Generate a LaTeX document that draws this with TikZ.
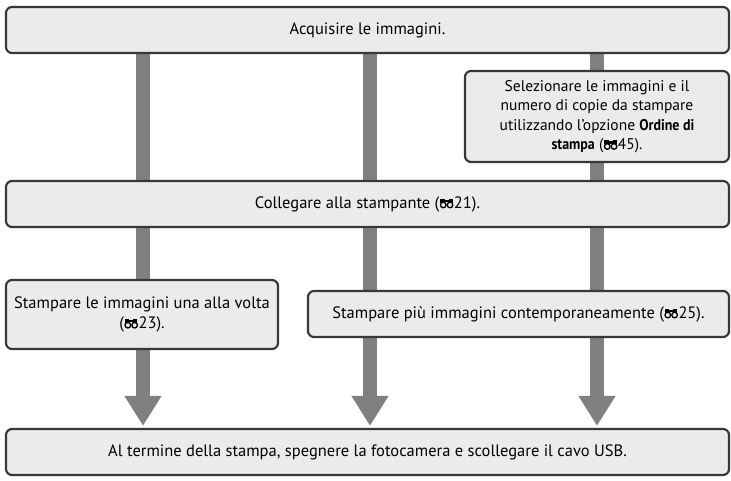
\documentclass[tikz,border=0pt]{standalone}
\usepackage{fontspec}
\setmainfont{PT Sans}[BoldFeatures={FakeStretch=0.9}]
\usetikzlibrary{arrows.meta}
\definecolor{boxfill}{HTML}{EBEBEB}
\definecolor{boxline}{HTML}{383838}
\definecolor{barc}{HTML}{808080}
\newcommand{\binoicon}{\tikz[baseline=0pt,x=1pt,y=1pt,line width=1.3pt,sharp corners]{%
  \path[use as bounding box] (-0.3,0) rectangle (14.3,9.5);
  \draw[black] (3.6,3.1) circle (2.8);
  \draw[black] (10.4,3.1) circle (2.8);
  \fill[black] (0.75,5.2) rectangle (5.0,9.2);
  \fill[black] (9.0,5.2) rectangle (13.25,9.2);
  \fill[black] (4.5,6.0) rectangle (9.5,8.4);
}}
\tikzset{
  flowbox/.style={draw=boxline, fill=boxfill, line width=2.2pt, rounded corners=6pt,
    inner sep=0pt, align=center, font=\fontsize{16.5}{19.5}\selectfont},
  selfont/.style={font=\fontsize{15.5}{19.5}\selectfont},
  flowbar/.style={draw=barc, line width=14pt, -{Triangle[width=35pt,length=30pt]}}
}
\begin{document}
\begin{tikzpicture}[x=1pt,y=-1pt]
\useasboundingbox (0,0) rectangle (731,480);
\coordinate (c1) at (143,0);
\coordinate (c2) at (370,0);
\coordinate (c3) at (597,0);
\path (367.5,30) coordinate (ptop);
\path (367.5,452) coordinate (pbot);
% invisible frames for the bar ends
\node[flowbox, minimum width=723pt, minimum height=46pt, draw=none, fill=none] (top0) at (ptop) {};
\node[flowbox, minimum width=723pt, minimum height=46pt, draw=none, fill=none] (bot0) at (pbot) {};
% bars with arrowheads
\draw[flowbar] (top0.south -| c1) -- ([yshift=2pt]bot0.north -| c1);
\draw[flowbar] (top0.south -| c2) -- ([yshift=2pt]bot0.north -| c2);
\draw[flowbar] (top0.south -| c3) -- ([yshift=2pt]bot0.north -| c3);
% boxes
\node[flowbox, minimum width=723pt, minimum height=46pt] (top) at (ptop) {Acquisire le immagini.};
\node[flowbox, selfont, minimum width=264pt, minimum height=91pt] (sel) at (597,116.5)
  {Selezionare le immagini e il\\numero di copie da stampare\\utilizzando l'opzione \textbf{Ordine di}\\\textbf{stampa} (\binoicon45).};
\node[flowbox, minimum width=723pt, minimum height=46pt] (coll) at (367.5,204)
  {Collegare alla stampante (\binoicon21).};
\node[flowbox, minimum width=272pt, minimum height=69pt] (one) at (142,314.5)
  {Stampare le immagini una alla volta\\(\binoicon23).};
\node[flowbox, minimum width=421pt, minimum height=46pt] (multi) at (518.5,314)
  {Stampare più immagini contemporaneamente (\binoicon25).};
\node[flowbox, minimum width=723pt, minimum height=46pt] (bot) at (pbot)
  {Al termine della stampa, spegnere la fotocamera e scollegare il cavo USB.};
\end{tikzpicture}
\end{document}
